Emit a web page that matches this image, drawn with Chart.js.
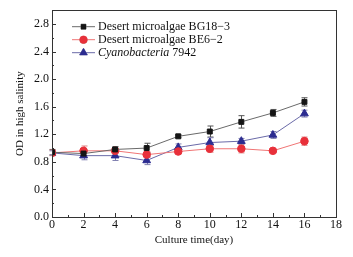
<!DOCTYPE html>
<html>
<head>
<meta charset="utf-8">
<script src="https://cdn.jsdelivr.net/npm/chart.js@4/dist/chart.umd.min.js"></script>
<style>
  html, body { margin: 0; padding: 0; background: #fff; }
  #wrap { width: 353px; height: 257px; }
</style>
</head>
<body>
<div id="wrap"><canvas id="od-chart" width="353" height="257"></canvas></div>
<script>
// culture days
var days = [0, 2, 4, 6, 8, 10, 12, 14, 16];

// OD in high salinity
var bg18 = [0.94, 0.92, 0.98, 1.00, 1.17, 1.24, 1.38, 1.51, 1.67];
var bg18Err = [0.04, 0.05, 0.04, 0.07, 0.02, 0.08, 0.09, 0.05, 0.06];

var be6 = [0.93, 0.96, 0.96, 0.905, 0.95, 0.99, 0.99, 0.96, 1.10];
var be6Err = [0.04, 0.07, 0.03, 0.04, 0.03, 0.05, 0.06, 0.02, 0.06];

var cyano = [0.93, 0.89, 0.89, 0.82, 1.01, 1.08, 1.10, 1.19, 1.50];
var cyanoErr = [0.03, 0.06, 0.07, 0.06, 0.05, 0.07, 0.04, 0.05, 0.05];

var seriesNames = ["Desert microalgae BG18\u22123", "Desert microalgae BE6\u22122", "Cyanobacteria 7942"];

var serif = "'Liberation Serif', 'DejaVu Serif', serif";

function pts(vals) {
  return vals.map((v, i) => ({ x: days[i], y: v }));
}

// error bars drawn through the scales
var errorBars = {
  id: "errorBars",
  beforeDatasetsDraw(chart) {
    var ctx = chart.ctx;
    var xs = chart.scales.x, ys = chart.scales.y;
    chart.data.datasets.forEach((ds) => {
      ctx.save();
      ctx.strokeStyle = ds.errColor;
      ctx.lineWidth = 1;
      ds.data.forEach((p, i) => {
        var e = ds.errors[i];
        var px = Math.round(xs.getPixelForValue(p.x)) + 0.5;
        var y1 = ys.getPixelForValue(p.y + e);
        var y2 = ys.getPixelForValue(p.y - e);
        ctx.beginPath();
        ctx.moveTo(px, y1); ctx.lineTo(px, y2);
        ctx.moveTo(px - 3, y1); ctx.lineTo(px + 3, y1);
        ctx.moveTo(px - 3, y2); ctx.lineTo(px + 3, y2);
        ctx.stroke();
      });
      ctx.restore();
    });
  }
};

// frame + inward ticks
var frame = {
  id: "frame",
  afterDraw(chart) {
    var ctx = chart.ctx, a = chart.chartArea;
    var xs = chart.scales.x, ys = chart.scales.y;
    ctx.save();
    ctx.strokeStyle = "#333";
    ctx.lineWidth = 1;
    ctx.strokeRect(Math.round(a.left) + 0.5, Math.round(a.top) + 0.5,
      Math.round(a.right - a.left), Math.round(a.bottom - a.top));
    ctx.beginPath();
    for (var v = 0; v <= 18; v += 1) {
      var px = Math.round(xs.getPixelForValue(v)) + 0.5;
      var len = v % 2 === 0 ? 4 : 2;
      ctx.moveTo(px, a.bottom); ctx.lineTo(px, a.bottom - len);
    }
    for (var k = 0; k <= 14; k++) {
      var py = Math.round(ys.getPixelForValue(k * 0.2)) + 0.5;
      var l2 = k % 2 === 0 ? 4 : 2;
      ctx.moveTo(a.left, py); ctx.lineTo(a.left + l2, py);
    }
    ctx.stroke();
    ctx.restore();
  }
};

// legend inside the plot
var innerLegend = {
  id: "innerLegend",
  afterDraw(chart) {
    var ctx = chart.ctx, a = chart.chartArea;
    var x0 = a.left + 20, rowY = a.top + 16, gap = 13;
    chart.data.datasets.forEach((ds, i) => {
      var y = rowY + i * gap;
      ctx.save();
      ctx.strokeStyle = ds.borderColor;
      ctx.lineWidth = 1;
      ctx.beginPath();
      ctx.moveTo(x0, y + 0.5); ctx.lineTo(x0 + 23, y + 0.5);
      ctx.stroke();
      Chart.helpers.drawPoint(ctx, {
        pointStyle: ds.pointStyle, radius: ds.pointRadius, rotation: 0, borderWidth: 1
      }, x0 + 11.5, y + 0.5);
      ctx.fillStyle = ds.pointBackgroundColor;
      ctx.fill();
      ctx.fillStyle = "#111";
      ctx.textBaseline = "middle";
      var tx = x0 + 26;
      var name = seriesNames[i];
      if (name.indexOf("Cyanobacteria") === 0) {
        ctx.font = "italic 12px " + serif;
        ctx.fillText("Cyanobacteria", tx, y + 1);
        tx += ctx.measureText("Cyanobacteria").width;
        ctx.font = "12px " + serif;
        ctx.fillText(name.slice(13), tx, y + 1);
      } else {
        ctx.font = "12px " + serif;
        ctx.fillText(name, tx, y + 1);
      }
      ctx.restore();
    });
  }
};

var config = {
  type: "line",
  data: {
    datasets: [
      {
        label: seriesNames[0],
        data: pts(bg18),
        errors: bg18Err,
        errColor: "#555",
        borderColor: "#6a6a6a",
        borderWidth: 1,
        pointStyle: "rect",
        pointRadius: 3.5,
        pointBackgroundColor: "#151515",
        pointBorderColor: "#151515",
        fill: false,
      },
      {
        label: seriesNames[1],
        data: pts(be6),
        errors: be6Err,
        errColor: "#e08080",
        borderColor: "#f07575",
        borderWidth: 1,
        pointStyle: "circle",
        pointRadius: 3.8,
        pointBackgroundColor: "#e8303a",
        pointBorderColor: "#e8303a",
        fill: false,
      },
      {
        label: seriesNames[2],
        data: pts(cyano),
        errors: cyanoErr,
        errColor: "#8080b0",
        borderColor: "#6a6aa8",
        borderWidth: 1,
        pointStyle: "triangle",
        pointRadius: 4.5,
        pointBackgroundColor: "#2c2c90",
        pointBorderColor: "#2c2c90",
        fill: false,
      },
    ],
  },
  options: {
    responsive: false,
    animation: false,
    layout: { padding: { top: 6, right: 17, left: 0, bottom: 10 } },
    plugins: { legend: { display: false }, tooltip: { enabled: false } },
    scales: {
      x: {
        type: "linear",
        min: 0,
        max: 18,
        afterFit: (s) => { s.height = 30; },
        border: { display: false },
        grid: { display: false, drawTicks: false },
        ticks: {
          stepSize: 2,
          padding: 1,
          color: "#111",
          maxRotation: 0,
          font: { family: serif, size: 12 },
        },
        title: {
          display: true,
          text: "Culture time(day)",
          color: "#111",
          font: { family: serif, size: 11 },
          padding: { top: 0, bottom: 0 },
        },
      },
      y: {
        min: 0,
        max: 3.0,
        afterFit: (s) => { s.width = 52; },
        border: { display: false },
        grid: { display: false, drawTicks: false },
        ticks: {
          stepSize: 0.4,
          padding: 3,
          color: "#111",
          font: { family: serif, size: 12 },
          callback: (v) => (v > 2.85 ? "" : v.toFixed(1)),
        },
        title: {
          display: true,
          text: "OD in high salinity",
          color: "#111",
          font: { family: serif, size: 11 },
          padding: { top: 14, bottom: 0 },
        },
      },
    },
  },
  plugins: [errorBars, frame, innerLegend],
};

var ctx = document.getElementById("od-chart").getContext("2d");
window.odChart = new Chart(ctx, config);
</script>
</body>
</html>
